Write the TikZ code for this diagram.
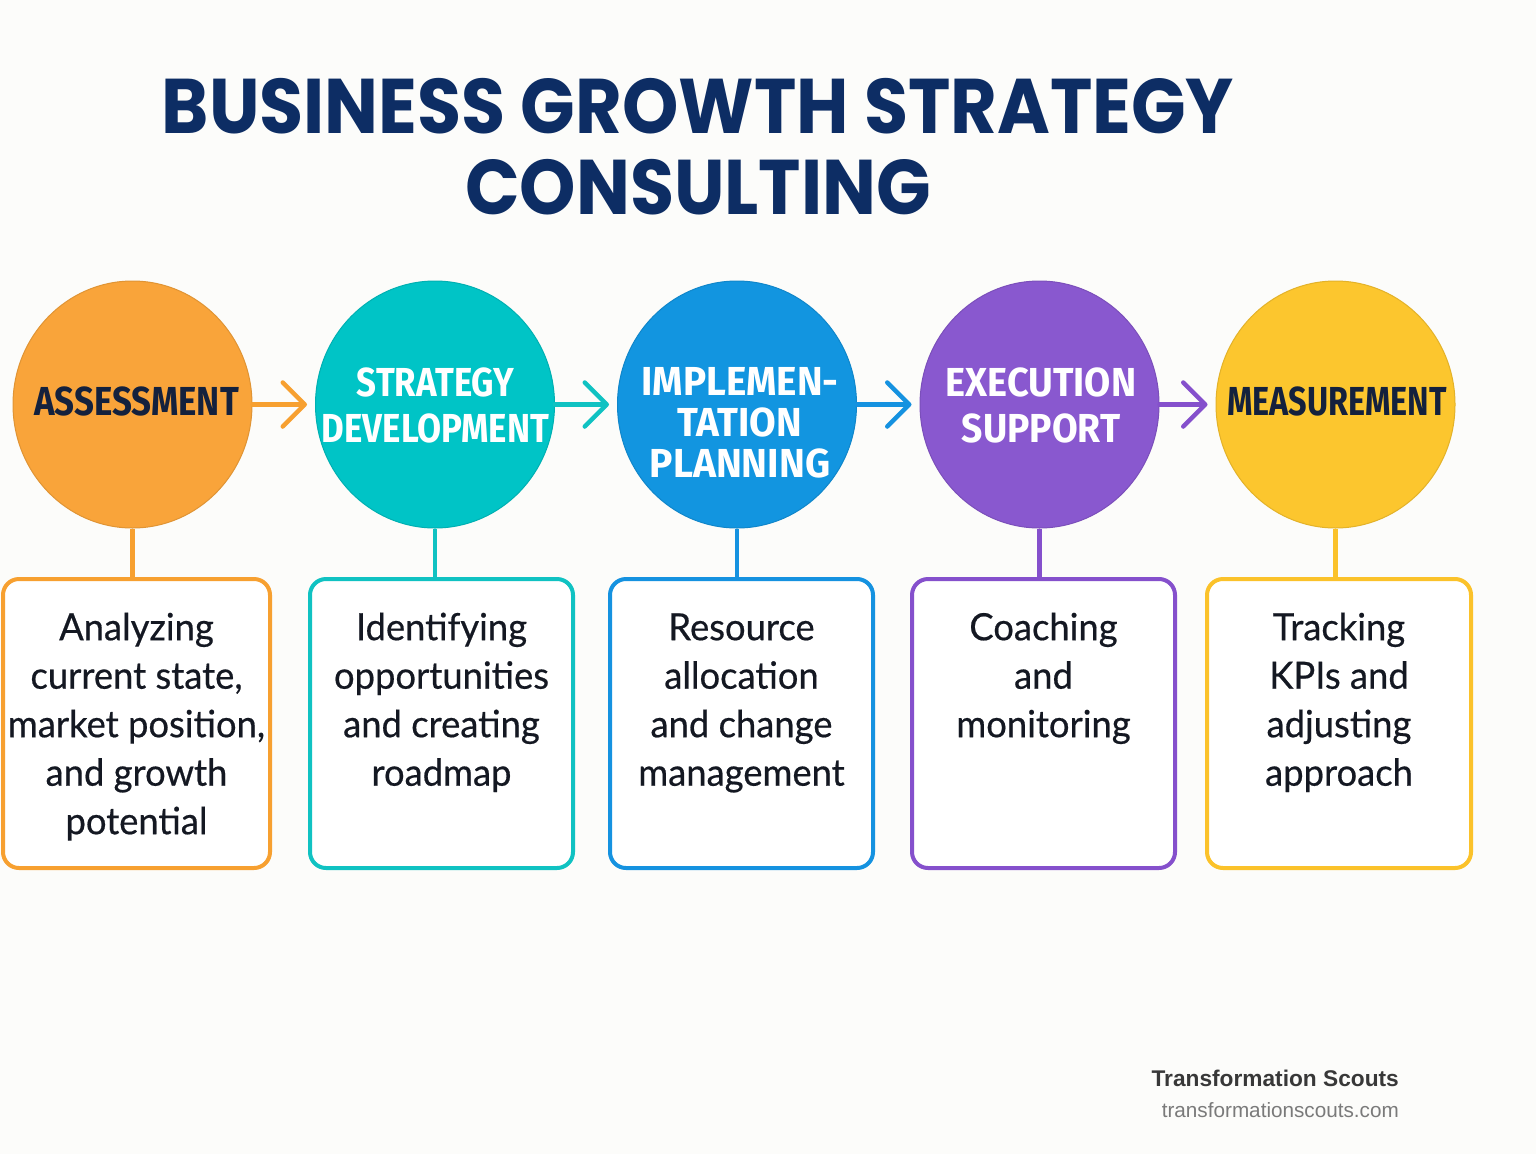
\documentclass[tikz,border=0pt]{standalone}
\usepackage{fontspec}
\usetikzlibrary{shapes.geometric,arrows.meta}
\setmainfont{Lato}
\newfontfamily\titlefont[FakeStretch=0.925]{Poppins}
\newfontfamily\labelfont[FakeStretch=0.86]{Fira Sans}
\newfontfamily\boxfont[FakeStretch=0.97,FakeBold=0.5]{Lato}
\newfontfamily\footfont{Liberation Sans}
\definecolor{bg}{HTML}{FCFCFA}
\definecolor{navy}{HTML}{0D2D64}
\definecolor{dark}{HTML}{14213D}
\definecolor{ink}{HTML}{141822}
\definecolor{cOr}{HTML}{F9A43A}\definecolor{lOr}{HTML}{F7A030}
\definecolor{cTe}{HTML}{00C4C6}\definecolor{lTe}{HTML}{10C2C2}
\definecolor{cBl}{HTML}{1295E0}\definecolor{lBl}{HTML}{1592E0}
\definecolor{cPu}{HTML}{8958CF}\definecolor{lPu}{HTML}{8550CC}
\definecolor{cYe}{HTML}{FCC62E}\definecolor{lYe}{HTML}{FBC22A}
\tikzset{
  circ/.style={ellipse, minimum width=239pt, minimum height=247pt, inner sep=0pt, fill=#1, draw=#1!90!black, line width=1pt},
  lbl/.style={inner sep=0pt, align=center, font=\labelfont\bfseries\fontsize{40.5}{46}\selectfont},
  stepbox/.style={rectangle, rounded corners=16pt, draw=#1, line width=4pt, fill=white, minimum width=263pt, minimum height=289pt, inner sep=0pt},
  boxtxt/.style={inner sep=0pt, anchor=north, align=center, text=ink, font=\boxfont\fontsize{37.5}{48.5}\selectfont},
  arr/.style={draw=#1, line width=4.5pt, line cap=round, shorten >=8pt, -{Straight Barb[length=22pt,width=44pt,round]}},
  vline/.style={draw=#1, line width=4.5pt},
}
\begin{document}
\begin{tikzpicture}[x=1pt,y=-1pt]
\useasboundingbox (0,0) rectangle (1536,1154);
\fill[bg] (0,0) rectangle (1536,1154);
% title
\node[inner sep=0pt, anchor=north, align=center, text=navy, font=\titlefont\bfseries\fontsize{77.5}{81}\selectfont] (title) at (698,78) {\rule{0pt}{54pt}BUSINESS GROWTH STRATEGY\\CONSULTING};
% circles
\node[circ=cOr] (c1) at (132.5,404.5) {};
\node[circ=cTe] (c2) at (435,404.5) {};
\node[circ=cBl] (c3) at (737,404.5) {};
\node[circ=cPu] (c4) at (1039.5,404.5) {};
\node[circ=cYe] (c5) at (1335.5,404.5) {};
% labels
\node[lbl, text=dark, anchor=base] (t1) at (136.5,415) {ASSESSMENT};
\node[lbl, text=white, anchor=north, font=\labelfont\bfseries\fontsize{40.5}{46}\selectfont] (t2) at (435.5,366) {\rule{0pt}{30pt}STRATEGY\\DEVELOPMENT};
\node[lbl, text=white, anchor=north, font=\labelfont\bfseries\fontsize{40.5}{41}\selectfont] (t3) at (740,365) {\rule{0pt}{30pt}\scalebox{1.11}[1]{IMPLEMEN-}\\\scalebox{1.11}[1]{TATION}\\\scalebox{1.12}[1]{PLANNING}};
\node[lbl, text=white, anchor=north, font=\labelfont\bfseries\fontsize{40.5}{46}\selectfont] (t4) at (1041,366) {\rule{0pt}{30pt}\scalebox{1.09}[1]{EXECUTION}\\\scalebox{1.07}[1]{SUPPORT}};
\node[lbl, text=dark, anchor=base] (t5) at (1337,415) {\scalebox{0.93}[1]{MEASUREMENT}};
% arrows
\draw[arr=lOr] (c1) -- (c2);
\draw[arr=lTe] (c2) -- (c3);
\draw[arr=lBl] (c3) -- (c4);
\draw[arr=lPu] (c4) -- (c5);
% boxes
\node[stepbox=lOr, minimum width=267pt] (b1) at (136.5,723.5) {};
\node[stepbox=lTe] (b2) at (441.5,723.5) {};
\node[stepbox=lBl] (b3) at (741.5,723.5) {};
\node[stepbox=lPu] (b4) at (1043.5,723.5) {};
\node[stepbox=lYe, minimum width=264pt] (b5) at (1339,723.5) {};
% connectors
\draw[vline=lOr] (c1.south) -- (c1.south |- b1.north);
\draw[vline=lTe] (c2.south) -- (c2.south |- b2.north);
\draw[vline=lBl] (c3.south) -- (c3.south |- b3.north);
\draw[vline=lPu] (c4.south) -- (c4.south |- b4.north);
\draw[vline=lYe] (c5.south) -- (c5.south |- b5.north);
% box texts
\node[boxtxt] (d1) at (136.5,610) {\rule{0pt}{30pt}Analyzing\\current state,\\market position,\\and growth\\potential};
\node[boxtxt] (d2) at (441.5,610) {\rule{0pt}{30pt}Identifying\\opportunities\\and creating\\roadmap};
\node[boxtxt] (d3) at (741.5,610) {\rule{0pt}{30pt}Resource\\allocation\\and change\\management};
\node[boxtxt] (d4) at (1043.5,610) {\rule{0pt}{30pt}Coaching\\and\\monitoring};
\node[boxtxt] (d5) at (1339,610) {\rule{0pt}{30pt}Tracking\\KPIs and\\adjusting\\approach};
% footer
\node[inner sep=0pt, anchor=base east, text=black!78, font=\footfont\bfseries\fontsize{22.7}{26}\selectfont] (f1) at (1399,1086) {Transformation Scouts};
\node[inner sep=0pt, anchor=base east, text=black!52, font=\footfont\fontsize{20.7}{24}\selectfont] (f2) at (1399,1117) {transformationscouts.com};
\end{tikzpicture}
\end{document}
